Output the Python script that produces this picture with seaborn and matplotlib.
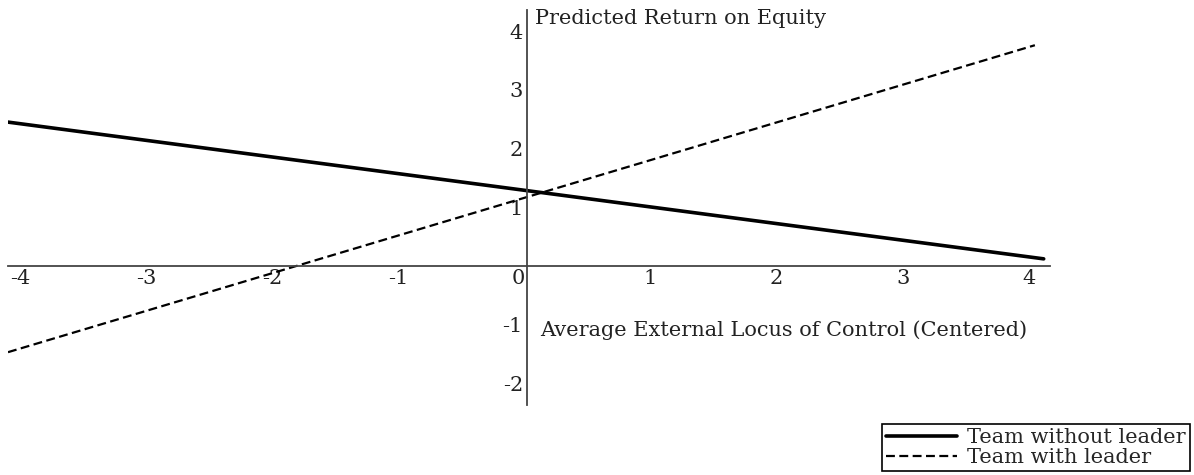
import pandas as pd
import matplotlib
matplotlib.use("Agg")
import matplotlib.pyplot as plt
import seaborn as sns

# endpoints of the two simple slopes
x_without = [-4.1, 4.12]
y_without = [2.45, 0.12]
x_with = [-4.1, 4.05]
y_with = [-1.47, 3.76]

x_ticks = [-4, -3, -2, -1, 0, 1, 2, 3, 4]
y_ticks = [-2, -1, 1, 2, 3, 4]

series_names = ["Team without leader", "Team with leader"]

df = pd.concat([
    pd.DataFrame({"x": x_without, "y": y_without, "group": series_names[0]}),
    pd.DataFrame({"x": x_with, "y": y_with, "group": series_names[1]}),
], ignore_index=True)

sns.set_style("white")
plt.rcParams["font.family"] = ["DejaVu Serif"]

fig = plt.figure(figsize=(11.94, 4.75), dpi=100)
ax = fig.add_axes([8 / 1194, 70 / 475, 1042 / 1194, 395 / 475])

sns.lineplot(data=df, x="x", y="y", hue="group", style="group",
             palette={series_names[0]: "black", series_names[1]: "black"},
             dashes={series_names[0]: "", series_names[1]: (4, 2)},
             sort=False, ax=ax, legend=False)
ax.lines[0].set_linewidth(2.6)
ax.lines[1].set_linewidth(1.6)

ax.set_xlim(-4.1, 4.17)
ax.set_ylim(-2.37, 4.36)

# axes crossing at the origin
for side in ["top", "right"]:
    ax.spines[side].set_visible(False)
ax.spines["left"].set_position(("data", 0.02))
ax.spines["bottom"].set_position(("data", 0))
for side in ["left", "bottom"]:
    ax.spines[side].set_color("#444444")
    ax.spines[side].set_linewidth(1.3)

ax.set_xticks(x_ticks)
ax.set_xticklabels([str(t) for t in x_ticks])
ax.set_yticks(y_ticks)
ax.set_yticklabels([str(t) for t in y_ticks])
ax.tick_params(axis="both", length=0, labelsize=15, colors="#222222")
ax.tick_params(axis="x", pad=2)
ax.tick_params(axis="y", pad=3)
for lbl in ax.get_xticklabels():
    if lbl.get_text() == "0":
        lbl.set_ha("right")
for lbl in ax.get_yticklabels():
    lbl.set_va("center_baseline")

ax.set_xlabel("")
ax.set_ylabel("")
ax.text(0.08, 4.38, "Predicted Return on Equity", fontsize=15,
        ha="left", va="top", color="#222222")
ax.text(0.12, -1.1, "Average External Locus of Control (Centered)",
        fontsize=15, ha="left", va="center", color="#222222")

handles = ax.lines[:2]
leg = fig.legend(handles, series_names, loc="lower right",
                 bbox_to_anchor=(1190 / 1194, 4 / 475), fontsize=15,
                 frameon=True, fancybox=False, edgecolor="black",
                 framealpha=1, borderpad=0.2, handlelength=3.4,
                 handletextpad=0.5, labelspacing=0.05, borderaxespad=0)
leg.get_frame().set_linewidth(1.2)

plt.savefig("out.png", dpi=100)
